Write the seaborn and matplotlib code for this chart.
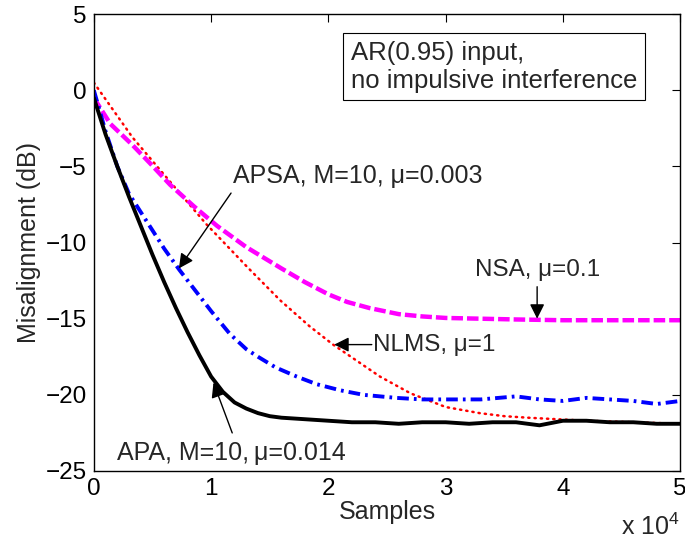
import numpy as np
import pandas as pd
import matplotlib
matplotlib.use("Agg")
import matplotlib.pyplot as plt
import seaborn as sns

# ---- data ----
apa_x = [0, 1000, 2000, 3000, 4000, 5000, 6000, 7000, 8000, 9000, 10000, 11000, 12000,
         13000, 14000, 15000, 16000, 18000, 20000, 22000, 24000, 26000, 28000, 30000,
         32000, 34000, 36000, 38000, 40000, 42000, 44000, 46000, 48000, 50000]
apa_y = [-0.5, -2.9, -5.0, -7.0, -8.9, -10.8, -12.6, -14.3, -15.9, -17.4, -18.8, -19.8, -20.5,
         -20.9, -21.2, -21.4, -21.5, -21.6, -21.7, -21.8, -21.8, -21.9, -21.8, -21.8,
         -21.9, -21.8, -21.8, -22.0, -21.7, -21.7, -21.8, -21.8, -21.9, -21.9]

apsa_x = [0, 1000, 2000, 3000, 4000, 5000, 6000, 7300, 8500, 10000, 11600, 13000, 14000,
          15500, 17300, 19000, 21000, 23000, 25800, 28000, 30000, 33000, 36000, 38000,
          40000, 42000, 44000, 46000, 48000, 50000]
apsa_y = [0.0, -2.7, -5.0, -6.8, -8.0, -9.2, -10.4, -11.8, -13.0, -14.5, -16.0, -17.0, -17.5,
          -18.2, -18.8, -19.3, -19.7, -20.0, -20.2, -20.3, -20.3, -20.3, -20.1, -20.3,
          -20.4, -20.2, -20.3, -20.4, -20.6, -20.4]

nsa_x = [0, 1400, 3300, 4800, 6500, 8500, 10500, 13000, 16000, 18000, 20000, 21600, 23500,
         26000, 28000, 30000, 33000, 36000, 40000, 44000, 50000]
nsa_y = [-0.5, -2.2, -3.6, -4.8, -6.2, -7.6, -8.9, -10.3, -11.7, -12.6, -13.4, -13.9, -14.3,
         -14.7, -14.85, -14.95, -15.0, -15.05, -15.1, -15.1, -15.1]

nlms_x = [0, 3300, 7600, 9600, 13200, 15900, 18400, 20400, 24400, 27000, 30000, 32900,
          35000, 37000, 42000, 46000, 50000]
nlms_y = [0.5, -3.1, -7.0, -8.8, -11.7, -13.8, -15.5, -16.7, -18.8, -19.9, -20.8, -21.2,
          -21.4, -21.5, -21.7, -21.8, -21.9]

xtick_vals = [0, 10000, 20000, 30000, 40000, 50000]
xtick_labels = ["0", "1", "2", "3", "4", "5"]
ytick_vals = [5, 0, -5, -10, -15, -20, -25]

# ---- style ----
sns.set_style("white")
plt.rcParams["font.family"] = ["Liberation Sans", "DejaVu Sans"]
plt.rcParams["mathtext.fontset"] = "custom"
plt.rcParams["mathtext.rm"] = "Liberation Sans"
FS = 18
FS_T = 17.5

fig = plt.figure(figsize=(6.85, 5.43), dpi=100)
ax = fig.add_axes([0.137, 0.1326, 0.993 - 0.137, 0.974 - 0.1326])

def frame(xs, ys, name):
    return pd.DataFrame({"Samples": xs, "Misalignment": ys, "alg": name})

sns.lineplot(data=frame(nlms_x, nlms_y, "NLMS"), x="Samples", y="Misalignment",
             color="red", lw=1.8, linestyle=(0, (0.5, 2.0)), dash_capstyle="round",
             ax=ax, legend=False)
sns.lineplot(data=frame(nsa_x, nsa_y, "NSA"), x="Samples", y="Misalignment",
             color="magenta", lw=3.2, linestyle=(0, (2.6, 0.9)), ax=ax, legend=False)
sns.lineplot(data=frame(apsa_x, apsa_y, "APSA"), x="Samples", y="Misalignment",
             color="blue", lw=2.8, linestyle=(0, (3.0, 1.3, 0.7, 1.3)), ax=ax, legend=False)
sns.lineplot(data=frame(apa_x, apa_y, "APA"), x="Samples", y="Misalignment",
             color="black", lw=2.8, ax=ax, legend=False)

ax.set_xlim(0, 50000)
ax.set_ylim(-25, 5)
ax.set_xticks(xtick_vals)
ax.set_xticklabels(xtick_labels)
ax.set_yticks(ytick_vals)
ax.set_yticklabels([str(v).replace("-", "\u2212") for v in ytick_vals])
ax.tick_params(direction="in", length=6, width=0.8, top=True, right=True,
               labelsize=FS_T, colors="black")
ax.tick_params(axis="x", pad=5)
ax.tick_params(axis="y", pad=5)
for s in ax.spines.values():
    s.set_color("black")
    s.set_linewidth(1.0)
ax.set_xlabel("Samples", fontsize=FS, labelpad=0)
ax.set_ylabel("Misalignment (dB)", fontsize=FS, labelpad=3)

fig.text(0.993, 0.006, r"x 10$^{4}$", ha="right", va="bottom", fontsize=FS)

# ---- annotations ----
arrow = dict(arrowstyle="-|>", color="black", lw=1.0, mutation_scale=22,
             shrinkA=0, shrinkB=0)
ax.annotate("", xy=(7250, -11.7), xytext=(11700, -6.75), arrowprops=arrow)
ax.text(11900, -5.6, "APSA, M=10, \u03bc=0.003", fontsize=FS, ha="left", va="center")

ax.annotate("", xy=(37800, -15.0), xytext=(37800, -12.9), arrowprops=arrow)
ax.text(37800, -11.8, "NSA, \u03bc=0.1", fontsize=FS_T, ha="center", va="center")

ax.annotate("", xy=(20500, -16.7), xytext=(23700, -16.7), arrowprops=arrow)
ax.text(23800, -16.7, "NLMS, \u03bc=1", fontsize=FS_T, ha="left", va="center")

ax.annotate("", xy=(10200, -19.2), xytext=(11800, -22.5), arrowprops=arrow)
ax.text(2000, -23.8, "APA, M=10,\u2009\u03bc=0.014", fontsize=FS, ha="left", va="center")

ax.text(21900, 3.25, "AR(0.95) input,\nno impulsive interference", fontsize=18.5,
        ha="left", va="top", linespacing=1.2,
        bbox=dict(boxstyle="square,pad=0.3", fc="white", ec="black", lw=0.8))

fig.savefig("out.png", dpi=100)
